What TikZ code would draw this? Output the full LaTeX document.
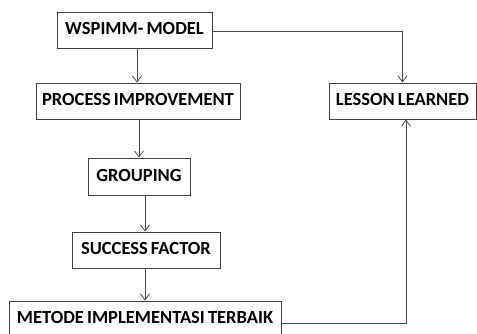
\documentclass[tikz,border=0pt]{standalone}
\usepackage{fontspec}
\setmainfont{Carlito}
\usetikzlibrary{arrows.meta}
\newcommand{\boxtext}[1]{\raisebox{3pt}{\spaceskip=0.17em\relax #1}}
\begin{document}
\begin{tikzpicture}[x=1pt,y=-1pt,
  box/.style={draw=black!75,line width=0.9pt,fill=white,inner sep=0pt,
    font=\fontsize{18.5}{20}\selectfont\bfseries,text=black},
  arr/.style={draw=black!70,line width=0.8pt,-{Straight Barb[length=6pt,width=9pt,line width=0.8pt]}}]
\useasboundingbox (0,0) rectangle (477,334);
\node[box,minimum width=155pt,minimum height=36pt] (w) at (134.5,30) {\boxtext{WSPIMM- MODEL}};
\node[box,minimum width=204pt,minimum height=36pt] (pi) at (138,101) {\boxtext{PROCESS IMPROVEMENT}};
\node[box,minimum width=102pt,minimum height=37pt] (g) at (139,176.5) {\boxtext{GROUPING}};
\node[box,minimum width=148pt,minimum height=36pt] (sf) at (146,250) {\boxtext{SUCCESS FACTOR}};
\node[box,minimum width=272pt,minimum height=36pt] (m) at (145,319) {\boxtext{METODE IMPLEMENTASI TERBAIK}};
\node[box,minimum width=147pt,minimum height=36pt] (ll) at (402.5,101) {\boxtext{LESSON LEARNED}};
\draw[arr] ([xshift=2.5pt]w.south) -- ([xshift=2.5pt]w.south |- pi.north);
\draw[arr] ([xshift=1pt]pi.south) -- ([xshift=1pt]pi.south |- g.north);
\draw[arr] ([xshift=6pt]g.south) -- ([xshift=6pt]g.south |- sf.north);
\draw[arr] ([xshift=-1pt]sf.south) -- ([xshift=-1pt]sf.south |- m.north);
\draw[arr] ([yshift=-1pt]w.east) -| (ll.north);
\draw[arr] ([yshift=-4pt]m.east) -| ([xshift=3.5pt]ll.south);
\end{tikzpicture}
\end{document}
